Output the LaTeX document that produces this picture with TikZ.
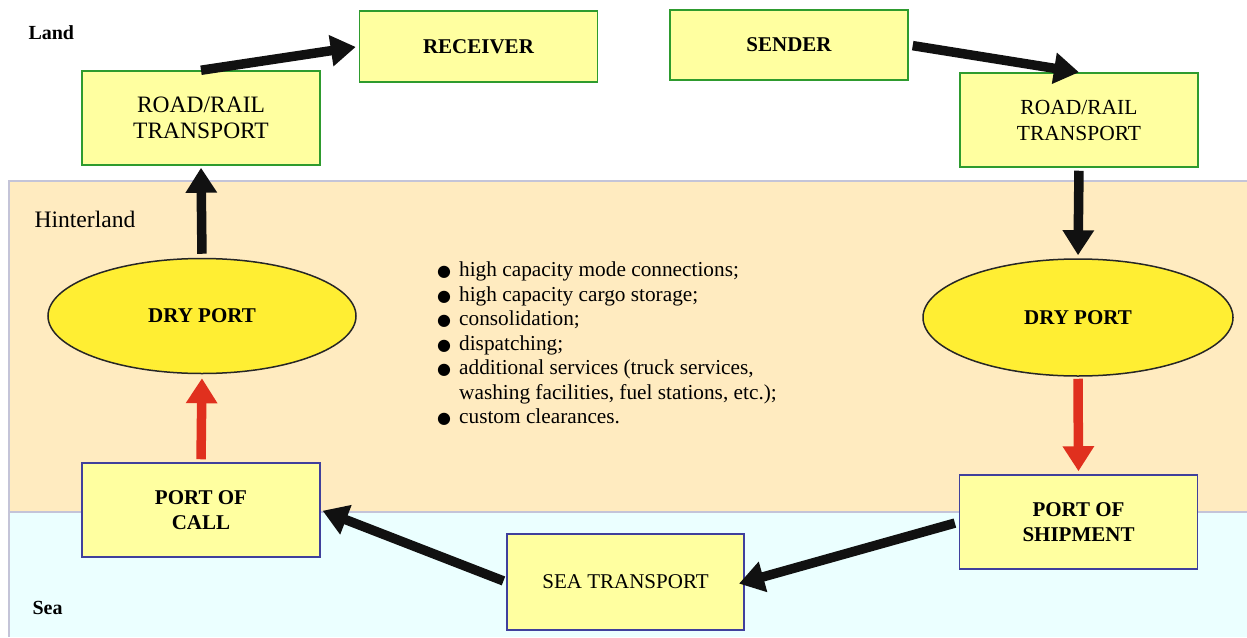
\documentclass[tikz,border=0pt]{standalone}
\usepackage{fontspec}
\setmainfont{Liberation Serif}
\newfontfamily\symfont{DejaVu Sans}
\usetikzlibrary{arrows.meta,shapes.geometric,calc}
\definecolor{boxfill}{HTML}{FFFFA0}
\definecolor{ellfill}{HTML}{FFEE33}
\definecolor{hinter}{HTML}{FFEBC0}
\definecolor{seacol}{HTML}{EBFFFF}
\definecolor{landedge}{HTML}{2E9B2E}
\definecolor{seaedge}{HTML}{40409C}
\definecolor{bandedge}{HTML}{C4C4D8}
\definecolor{arrred}{HTML}{E0301E}
\definecolor{arrblack}{HTML}{111111}
\tikzset{
  txt/.style={font=\fontsize{21}{25.5}\selectfont, align=center},
  landbox/.style={txt, draw=landedge, line width=1.5pt, fill=boxfill, minimum width=238pt, minimum height=94pt, inner sep=0pt},
  seabox/.style={txt, draw=seaedge, line width=1.5pt, fill=boxfill, minimum width=238pt, minimum height=94pt, inner sep=0pt},
  dryport/.style={txt, ellipse, draw=black!85, line width=1.5pt, fill=ellfill, minimum width=308pt, minimum height=115pt, inner sep=0pt},
  blk/.style={draw=arrblack, line width=9.5pt, -{Triangle[length=25pt,width=30pt]}},
  redarr/.style={draw=arrred, line width=9.5pt, -{Triangle[length=25pt,width=30pt]}},
  bul/.style={},
}
\newcommand{\blt}{{\symfont\fontsize{16}{16}\selectfont ●}}
\begin{document}
\begin{tikzpicture}[x=1pt,y=-1pt]
\useasboundingbox (0,0) rectangle (1247,637);
% bands
\fill[hinter] (9,181) rectangle (1247,512);
\fill[seacol] (9,512) rectangle (1247,637);
\draw[bandedge, line width=1.5pt] (1247,181) -- (9,181) -- (9,637);
\draw[bandedge, line width=1.2pt] (9,512) -- (1247,512);
% band labels
\node[anchor=west, font=\fontsize{20}{24}\selectfont\bfseries] (land) at (25,33) {Land};
\node[anchor=west, font=\fontsize{23.6}{27}\selectfont] (hint) at (31,219) {Hinterland};
\node[anchor=west, font=\fontsize{20}{24}\selectfont\bfseries] (sealbl) at (29,608) {Sea};
% land boxes
\node[landbox, minimum height=71pt, font=\fontsize{21}{25.5}\selectfont\bfseries] (recv) at (478.5,46.5) {RECEIVER};
\node[landbox, font=\fontsize{23.5}{26.5}\selectfont] (rrl) at (201,118) {ROAD/RAIL\\TRANSPORT};
\node[landbox, minimum height=70pt, font=\fontsize{21}{25.5}\selectfont\bfseries] (send) at (789,45) {SENDER};
\node[landbox, font=\fontsize{21.5}{26}\selectfont] (rrr) at (1079,120) {ROAD/RAIL\\TRANSPORT};
% dry ports
\node[dryport, font=\fontsize{21}{25.5}\selectfont\bfseries] (dryl) at (202,316) {DRY PORT};
\node[dryport, minimum width=310pt, minimum height=117pt, font=\fontsize{21}{25.5}\selectfont\bfseries] (dryr) at (1078,317.5) {DRY PORT};
% sea boxes
\node[seabox, font=\fontsize{21}{24.5}\selectfont\bfseries] (pcall) at (201,510) {PORT OF\\CALL};
\node[seabox, font=\fontsize{21}{24.5}\selectfont\bfseries] (pship) at (1078.5,522) {PORT OF\\SHIPMENT};
\node[seabox, minimum width=237pt, minimum height=96pt] (seat) at (625.5,582) {SEA TRANSPORT};
% list
\node[anchor=north west, inner sep=0pt, font=\fontsize{21.3}{24.5}\selectfont] (list) at (437,259.5) {%
\begin{tabular}{@{}l@{\hspace{8pt}}l@{}}
\blt & high capacity mode connections;\\
\blt & high capacity cargo storage;\\
\blt & consolidation;\\
\blt & dispatching;\\
\blt & additional services (truck services,\\
 & washing facilities, fuel stations, etc.);\\
\blt & custom clearances.
\end{tabular}};
% connectors
\draw[blk, shorten >=3pt] (rrl.north) -- (recv.west);
\draw[blk, shorten <=4pt] (send.east) -- (rrr.north);
\draw[blk, shorten <=3pt, shorten >=3pt] (rrr.south) -- (dryr.north);
\draw[redarr, shorten <=2pt, shorten >=3pt] (dryr.south) -- (pship.north);
\draw[blk, shorten <=4pt, shorten >=-6pt] (pship.west) -- (seat.east);
\draw[blk, shorten <=3pt, shorten >=2pt] (seat.west) -- (pcall.east);
\draw[redarr, shorten <=3pt, shorten >=4pt] (pcall.north) -- (dryl.south);
\draw[blk, shorten <=4pt, shorten >=2pt] (dryl.north) -- (rrl.south);
\end{tikzpicture}
\end{document}
